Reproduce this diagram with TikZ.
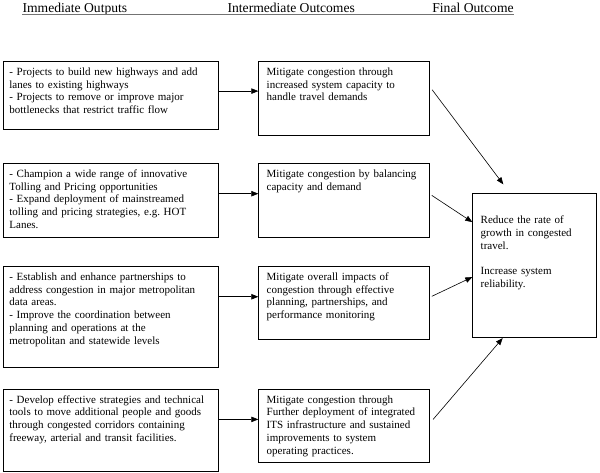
\documentclass[tikz,border=0pt]{standalone}
\usepackage{fontspec}
\setmainfont{Liberation Serif}
\usetikzlibrary{arrows.meta}
\frenchspacing

\begin{document}
\begin{tikzpicture}[x=1pt,y=-1pt,
  every node/.style={font=\fontsize{11}{12.8}\selectfont},
  head/.style={anchor=base west,inner sep=0pt,font=\fontsize{13.6}{16}\selectfont},
  outbox/.style={draw,line width=0.8pt,anchor=north west,align=left,
    text width=202.7pt,inner xsep=6.3pt,inner ysep=5pt,text height=9pt},
  midbox/.style={outbox,text width=154.4pt,inner xsep=8pt},
  finbox/.style={outbox,text width=107.4pt,inner xsep=8pt,text height=25pt},
  flow/.style={line width=0.6pt,-{Triangle[length=7pt,width=5.5pt]}},
  rule/.style={line width=0.9pt,black!55}]
  \useasboundingbox (0,0) rectangle (600,473);
  % column headings
  \node[head] (hdimm) at (22.4,12.8) {Immediate Outputs};
  \node[head] (hdmid) at (227.4,12.8) {Intermediate Outcomes};
  \node[head] (hdfin) at (432.2,12.8) {Final Outcome};
  \draw[rule] ([yshift=-1.9pt]hdimm.base west) -- ([yshift=-1.9pt]hdfin.base east);
  % immediate outputs
  \node[outbox,text depth=49pt] (imm1) at (2.7,61) {- Projects to build new highways and add\\lanes to existing highways\\- Projects to remove or improve major\\bottlenecks that restrict traffic flow};
  \node[outbox,text depth=55pt] (imm2) at (2.7,163) {- Champion a wide range of innovative\\Tolling and Pricing opportunities\\- Expand deployment of mainstreamed\\tolling and pricing strategies, e.g. HOT\\Lanes.};
  \node[outbox,text depth=81.7pt] (imm3) at (2.7,266) {- Establish and enhance partnerships to\\address congestion in major metropolitan\\data areas.\\- Improve the coordination between\\planning and operations at the\\metropolitan and statewide levels};
  \node[outbox,text depth=63pt] (imm4) at (2.7,388.7) {- Develop effective strategies and technical\\tools to move additional people and goods\\through congested corridors containing\\freeway, arterial and transit facilities.};
  % intermediate outcomes
  \node[midbox,text depth=55pt] (mid1) at (258.3,61) {Mitigate congestion through\\increased system capacity to\\handle travel demands};
  \node[midbox,text depth=55pt] (mid2) at (258.3,163) {Mitigate congestion by balancing\\capacity and demand};
  \node[midbox,text depth=54.3pt] (mid3) at (258.3,266) {Mitigate overall impacts of\\congestion through effective\\planning, partnerships, and\\performance monitoring};
  \node[midbox,text depth=54.6pt] (mid4) at (258.3,388.7) {Mitigate congestion through\\Further deployment of integrated\\ITS infrastructure and sustained\\improvements to system\\operating practices.};
  % final outcome
  \node[finbox,text depth=109pt] (fin) at (472.3,193.3) {Reduce the rate of\\growth in congested\\travel.\\[12.8pt]Increase system\\reliability.};
  % outputs to outcomes
  \draw[flow] ([yshift=4.3pt]imm1.east) -- ([yshift=4.3pt]imm1.east -| mid1.west);
  \draw[flow] ([yshift=6.7pt]imm2.east) -- ([yshift=6.7pt]imm2.east -| mid2.west);
  \draw[flow] ([yshift=20pt]imm3.east) -- ([yshift=20pt]imm3.east -| mid3.west);
  \draw[flow] ([yshift=10.7pt]imm4.east) -- ([yshift=10.7pt]imm4.east -| mid4.west);
  % outcomes to final outcome
  \draw[flow] ([shift={(2.6,-8.7)}]mid1.east) -- ([shift={(31,-9)}]fin.north west);
  \draw[flow] ([shift={(2.3,-5)}]mid2.east) -- ([yshift=43.6pt]fin.west);
  \draw[flow] ([shift={(2.3,-6.7)}]mid3.east) -- ([yshift=-11.4pt]fin.west);
  \draw[flow] ([shift={(3.6,-6.5)}]mid4.east) -- ([xshift=30.4pt]fin.south west);
\end{tikzpicture}
\end{document}
